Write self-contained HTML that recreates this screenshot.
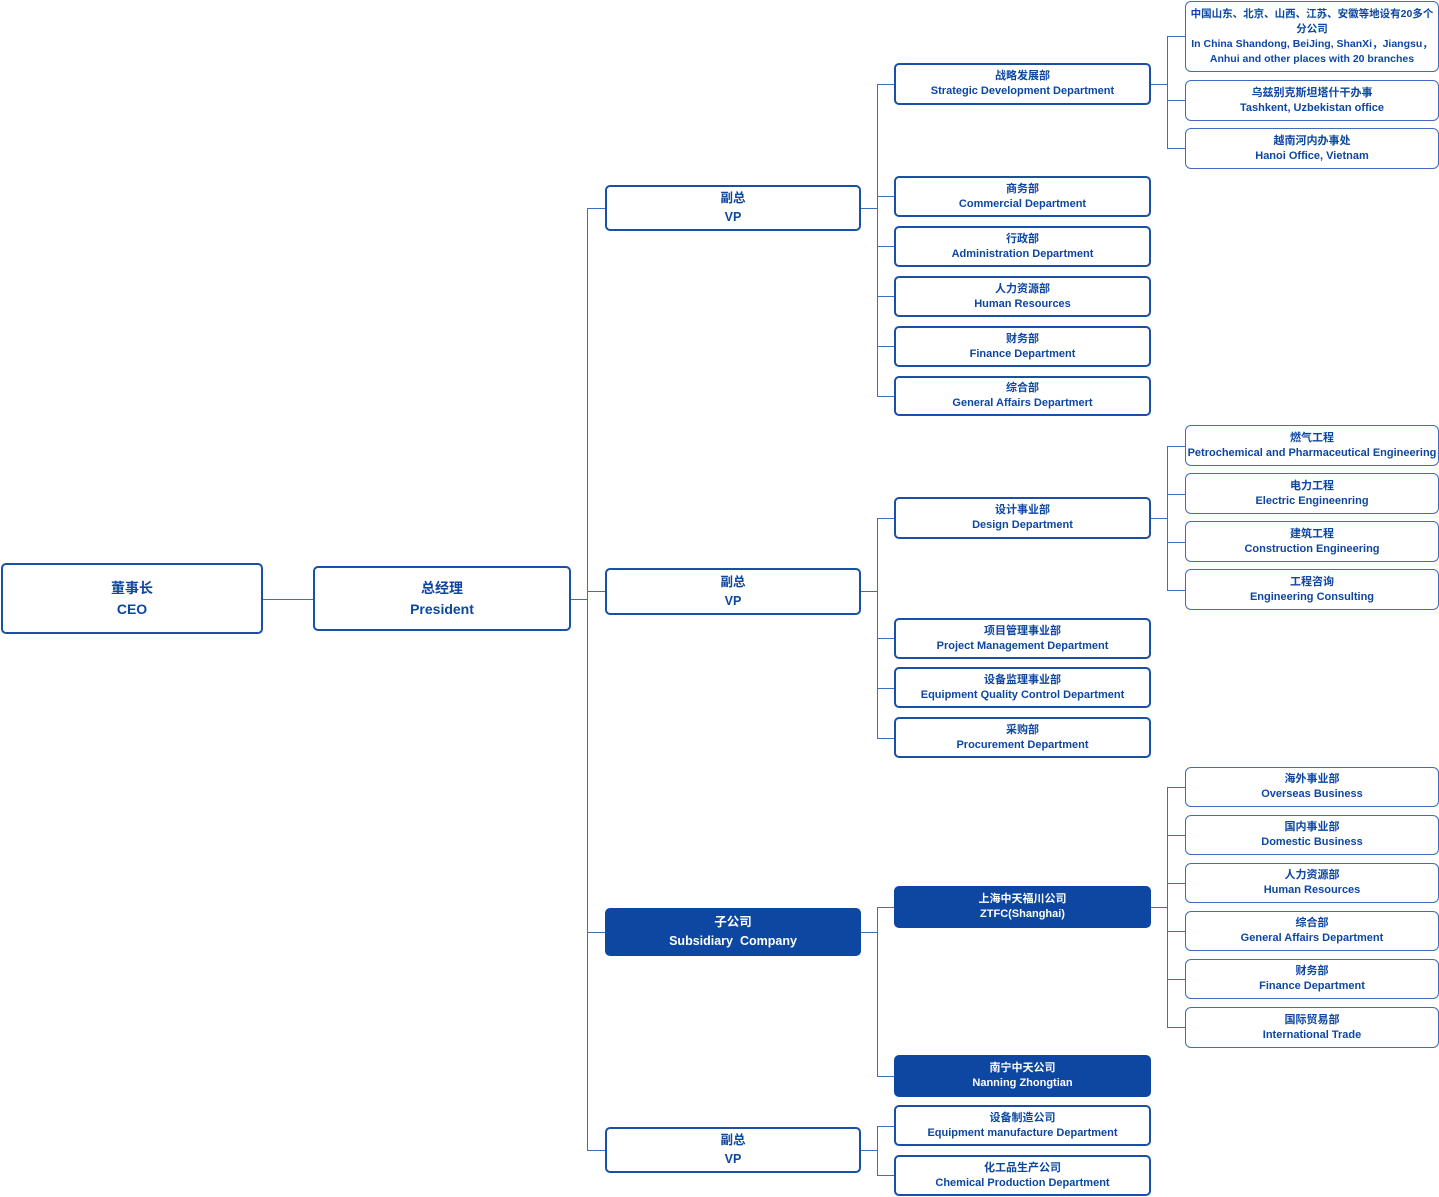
<!DOCTYPE html>
<html><head><meta charset="utf-8"><style>
body{margin:0;width:1439px;height:1197px;position:relative;background:#fff;overflow:hidden;font-family:"Liberation Sans","Noto Sans CJK SC",sans-serif;font-weight:bold;color:#0d47a1}
.b{position:absolute;box-sizing:border-box;border:2px solid #1a4fa6;border-radius:5px;background:#fff;display:flex;flex-direction:column;align-items:center;justify-content:center;text-align:center;font-size:11px;line-height:15px;white-space:nowrap}
.f{background:#0d47a1;color:#fff;border-color:#0d47a1}
.l{border:1px solid #3d6cc0;border-radius:6px}
.big{font-size:14px;line-height:21px}
.m{font-size:12.5px;line-height:19px}
.h,.v{position:absolute;background:#3d6cc0}
.h{height:1px}.v{width:1px}
</style></head><body>
<div class="h" style="left:263px;top:599px;width:50px"></div>
<div class="h" style="left:571px;top:599px;width:16px"></div>
<div class="v" style="left:587px;top:208px;height:943px"></div>
<div class="h" style="left:587px;top:208px;width:18px"></div>
<div class="h" style="left:587px;top:591px;width:18px"></div>
<div class="h" style="left:587px;top:932px;width:18px"></div>
<div class="h" style="left:587px;top:1150px;width:18px"></div>

<div class="h" style="left:861px;top:208px;width:16px"></div>
<div class="v" style="left:877px;top:84px;height:313px"></div>
<div class="h" style="left:877px;top:84px;width:17px"></div>
<div class="h" style="left:877px;top:196px;width:17px"></div>
<div class="h" style="left:877px;top:246px;width:17px"></div>
<div class="h" style="left:877px;top:296px;width:17px"></div>
<div class="h" style="left:877px;top:346px;width:17px"></div>
<div class="h" style="left:877px;top:396px;width:17px"></div>

<div class="h" style="left:861px;top:591px;width:16px"></div>
<div class="v" style="left:877px;top:518px;height:221px"></div>
<div class="h" style="left:877px;top:518px;width:17px"></div>
<div class="h" style="left:877px;top:638px;width:17px"></div>
<div class="h" style="left:877px;top:688px;width:17px"></div>
<div class="h" style="left:877px;top:738px;width:17px"></div>

<div class="h" style="left:861px;top:932px;width:16px"></div>
<div class="v" style="left:877px;top:907px;height:170px"></div>
<div class="h" style="left:877px;top:907px;width:17px"></div>
<div class="h" style="left:877px;top:1076px;width:17px"></div>

<div class="h" style="left:861px;top:1150px;width:16px"></div>
<div class="v" style="left:877px;top:1126px;height:50px"></div>
<div class="h" style="left:877px;top:1126px;width:17px"></div>
<div class="h" style="left:877px;top:1175px;width:17px"></div>

<div class="h" style="left:1151px;top:84px;width:16px"></div>
<div class="v" style="left:1167px;top:36px;height:113px"></div>
<div class="h" style="left:1167px;top:36px;width:18px"></div>
<div class="h" style="left:1167px;top:100px;width:18px"></div>
<div class="h" style="left:1167px;top:148px;width:18px"></div>

<div class="h" style="left:1151px;top:518px;width:16px"></div>
<div class="v" style="left:1167px;top:446px;height:145px"></div>
<div class="h" style="left:1167px;top:446px;width:18px"></div>
<div class="h" style="left:1167px;top:494px;width:18px"></div>
<div class="h" style="left:1167px;top:542px;width:18px"></div>
<div class="h" style="left:1167px;top:590px;width:18px"></div>

<div class="h" style="left:1151px;top:907px;width:16px"></div>
<div class="v" style="left:1167px;top:787px;height:241px"></div>
<div class="h" style="left:1167px;top:787px;width:18px"></div>
<div class="h" style="left:1167px;top:835px;width:18px"></div>
<div class="h" style="left:1167px;top:883px;width:18px"></div>
<div class="h" style="left:1167px;top:931px;width:18px"></div>
<div class="h" style="left:1167px;top:979px;width:18px"></div>
<div class="h" style="left:1167px;top:1027px;width:18px"></div>

<div class="b big" style="left:1px;top:563px;width:262px;height:71px"><div>董事长</div><div>CEO</div></div>
<div class="b big" style="left:313px;top:566px;width:258px;height:65px"><div>总经理</div><div>President</div></div>

<div class="b m" style="left:605px;top:185px;width:256px;height:46px"><div>副总</div><div>VP</div></div>
<div class="b m" style="left:605px;top:568px;width:256px;height:47px"><div>副总</div><div>VP</div></div>
<div class="b m f" style="left:605px;top:908px;width:256px;height:48px"><div>子公司</div><div>Subsidiary&nbsp; Company</div></div>
<div class="b m" style="left:605px;top:1127px;width:256px;height:46px"><div>副总</div><div>VP</div></div>

<div class="b" style="left:894px;top:63px;width:257px;height:42px"><div>战略发展部</div><div>Strategic Development Department</div></div>
<div class="b" style="left:894px;top:176px;width:257px;height:41px"><div>商务部</div><div>Commercial Department</div></div>
<div class="b" style="left:894px;top:226px;width:257px;height:41px"><div>行政部</div><div>Administration Department</div></div>
<div class="b" style="left:894px;top:276px;width:257px;height:41px"><div>人力资源部</div><div>Human Resources</div></div>
<div class="b" style="left:894px;top:326px;width:257px;height:41px"><div>财务部</div><div>Finance Department</div></div>
<div class="b" style="left:894px;top:376px;width:257px;height:40px"><div>综合部</div><div>General Affairs Departmert</div></div>

<div class="b" style="left:894px;top:497px;width:257px;height:42px"><div>设计事业部</div><div>Design Department</div></div>
<div class="b" style="left:894px;top:618px;width:257px;height:41px"><div>项目管理事业部</div><div>Project Management Department</div></div>
<div class="b" style="left:894px;top:667px;width:257px;height:41px"><div>设备监理事业部</div><div>Equipment Quality Control Department</div></div>
<div class="b" style="left:894px;top:717px;width:257px;height:41px"><div>采购部</div><div>Procurement Department</div></div>

<div class="b f" style="left:894px;top:886px;width:257px;height:42px;justify-content:flex-start;padding-top:4px"><div>上海中天福川公司</div><div>ZTFC(Shanghai)</div></div>
<div class="b f" style="left:894px;top:1055px;width:257px;height:42px"><div>南宁中天公司</div><div>Nanning Zhongtian</div></div>
<div class="b" style="left:894px;top:1105px;width:257px;height:41px"><div>设备制造公司</div><div>Equipment manufacture Department</div></div>
<div class="b" style="left:894px;top:1155px;width:257px;height:41px"><div>化工品生产公司</div><div>Chemical Production Department</div></div>

<div class="b l" style="left:1185px;top:1px;width:254px;height:71px;font-size:10.5px;line-height:15px"><div>中国山东、北京、山西、江苏、安徽等地设有20多个</div><div>分公司</div><div>In China Shandong, BeiJing, ShanXi，Jiangsu，</div><div>Anhui and other places with 20 branches</div></div>
<div class="b l" style="left:1185px;top:80px;width:254px;height:41px"><div>乌兹别克斯坦塔什干办事</div><div>Tashkent, Uzbekistan office</div></div>
<div class="b l" style="left:1185px;top:128px;width:254px;height:41px"><div>越南河内办事处</div><div>Hanoi Office, Vietnam</div></div>

<div class="b l" style="left:1185px;top:425px;width:254px;height:41px"><div>燃气工程</div><div>Petrochemical and Pharmaceutical Engineering</div></div>
<div class="b l" style="left:1185px;top:473px;width:254px;height:41px"><div>电力工程</div><div>Electric Engineenring</div></div>
<div class="b l" style="left:1185px;top:521px;width:254px;height:41px"><div>建筑工程</div><div>Construction Engineering</div></div>
<div class="b l" style="left:1185px;top:569px;width:254px;height:41px"><div>工程咨询</div><div>Engineering Consulting</div></div>

<div class="b l" style="left:1185px;top:767px;width:254px;height:40px"><div>海外事业部</div><div>Overseas Business</div></div>
<div class="b l" style="left:1185px;top:815px;width:254px;height:40px"><div>国内事业部</div><div>Domestic Business</div></div>
<div class="b l" style="left:1185px;top:863px;width:254px;height:40px"><div>人力资源部</div><div>Human Resources</div></div>
<div class="b l" style="left:1185px;top:911px;width:254px;height:40px"><div>综合部</div><div>General Affairs Department</div></div>
<div class="b l" style="left:1185px;top:959px;width:254px;height:40px"><div>财务部</div><div>Finance Department</div></div>
<div class="b l" style="left:1185px;top:1007px;width:254px;height:41px"><div>国际贸易部</div><div>International Trade</div></div>
</body></html>
